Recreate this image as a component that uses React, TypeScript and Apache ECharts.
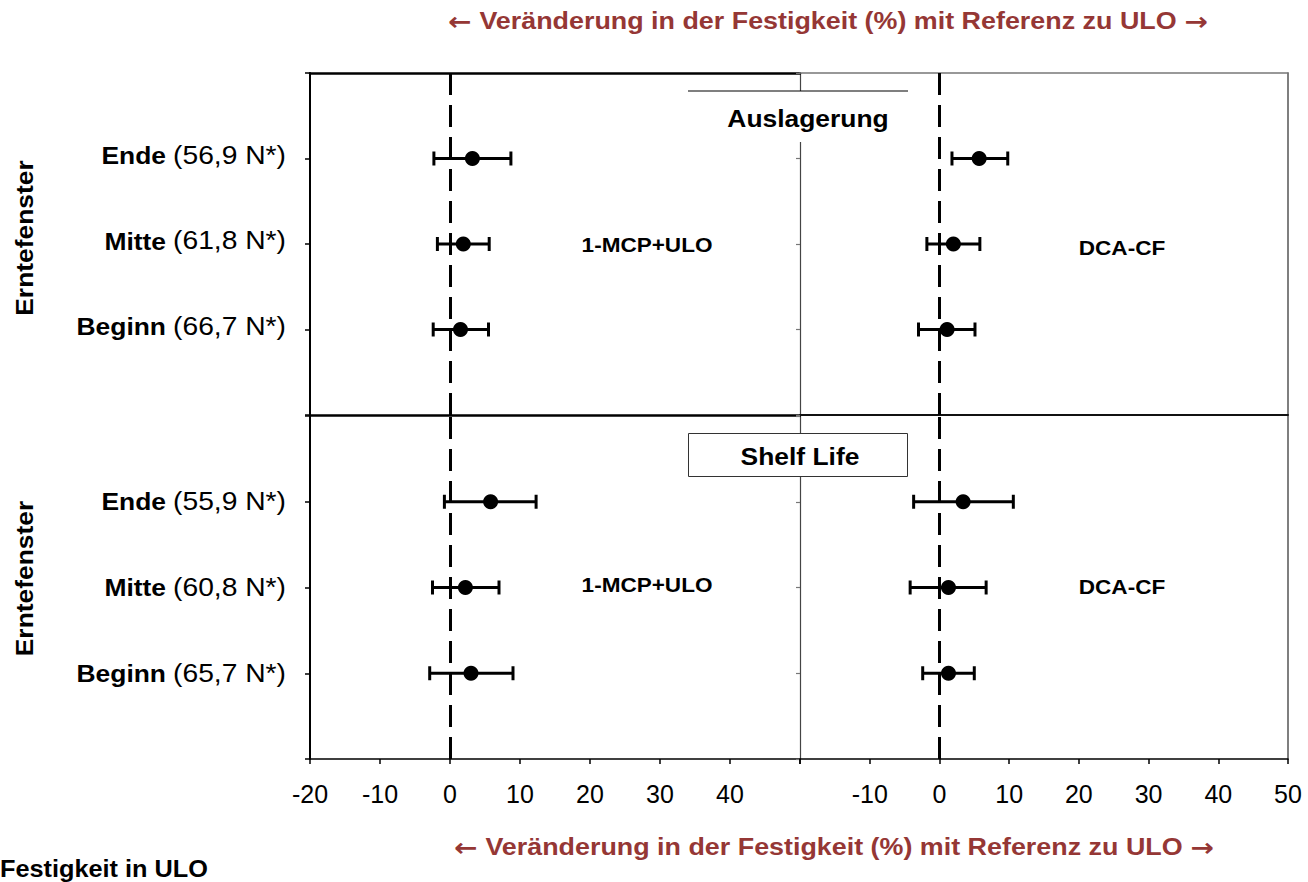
import React, { useEffect, useRef } from "react";
import * as echarts from "echarts";

// Rows of each panel (y value 1 = Beginn, 2 = Mitte, 3 = Ende)
const rowValues = [1, 2, 3];
const rowNames = ["Beginn", "Mitte", "Ende"];
const storageFirmness = ["(66,7 N*)", "(61,8 N*)", "(56,9 N*)"];
const shelfFirmness = ["(65,7 N*)", "(60,8 N*)", "(55,9 N*)"];

// Change in firmness (%) relative to ULO: mean, lower and upper limit (Beginn, Mitte, Ende)
const storageMcpMean = [1.5, 1.9, 3.2];
const storageMcpLow = [-2.4, -1.8, -2.3];
const storageMcpHigh = [5.5, 5.6, 8.7];

const storageDcaMean = [1.1, 2.0, 5.7];
const storageDcaLow = [-3.0, -1.8, 1.8];
const storageDcaHigh = [5.1, 5.8, 9.8];

const shelfMcpMean = [3.0, 2.2, 5.8];
const shelfMcpLow = [-2.9, -2.5, -0.8];
const shelfMcpHigh = [9.0, 7.0, 12.3];

const shelfDcaMean = [1.3, 1.3, 3.4];
const shelfDcaLow = [-2.4, -4.2, -3.7];
const shelfDcaHigh = [5.0, 6.7, 10.6];

// Tick labels shown under each half of the x axis
const leftTickLabels = [-20, -10, 0, 10, 20, 30, 40];
const rightTickLabels = [-10, 0, 10, 20, 30, 40, 50];

const X_MIN = -20;
const X_MAX = 50;
const X_STEP = 10;

const FONT = '"Liberation Sans", Arial, sans-serif';
const RED = "#953735";
const STRETCH = 1.1;

function errorBarItem(params: any, api: any) {
  const y = api.value(2);
  const lo = api.coord([api.value(0), y]);
  const hi = api.coord([api.value(1), y]);
  const cap = 7;
  const style = { stroke: "#000", lineWidth: 3 };
  return {
    type: "group",
    children: [
      { type: "line", shape: { x1: lo[0], y1: lo[1], x2: hi[0], y2: hi[1] }, style },
      { type: "line", shape: { x1: lo[0], y1: lo[1] - cap, x2: lo[0], y2: lo[1] + cap }, style },
      { type: "line", shape: { x1: hi[0], y1: hi[1] - cap, x2: hi[0], y2: hi[1] + cap }, style },
    ],
  };
}

function panelSeries(xAxisIndex: number, yAxisIndex: number, mean: number[], low: number[], high: number[]) {
  return [
    {
      type: "custom",
      xAxisIndex,
      yAxisIndex,
      renderItem: errorBarItem,
      encode: { x: [0, 1], y: 2 },
      data: rowValues.map((r, i) => [low[i], high[i], r]),
      z: 3,
      silent: true,
      markLine: {
        silent: true,
        symbol: ["none", "none"],
        label: { show: false },
        lineStyle: { color: "#000", width: 3, type: [22, 10], opacity: 1 },
        data: [{ xAxis: 0 }],
      },
    },
    {
      type: "scatter",
      xAxisIndex,
      yAxisIndex,
      symbol: "circle",
      symbolSize: 15,
      itemStyle: { color: "#000", opacity: 1 },
      data: rowValues.map((r, i) => [mean[i], r]),
      z: 4,
      silent: true,
    },
  ];
}

function line(color: string, width: number) {
  return { show: true, onZero: false, lineStyle: { color, width } };
}

function xAxisBase(gridIndex: number, position: string) {
  return {
    type: "value",
    gridIndex,
    position,
    min: X_MIN,
    max: X_MAX,
    interval: X_STEP,
    splitLine: { show: false },
    axisTick: { show: false },
    axisLabel: { show: false },
  };
}

function yAxisBase(gridIndex: number, position: string) {
  return {
    type: "value",
    gridIndex,
    position,
    min: 0,
    max: 4,
    interval: 1,
    splitLine: { show: false },
    axisLabel: { show: false },
  };
}

const tickLabelStyle = {
  show: true,
  fontSize: 25,
  fontFamily: FONT,
  color: "#000",
  margin: 22,
};

export default function App() {
  const ref = useRef<HTMLDivElement>(null);

  useEffect(() => {
    if (!ref.current) return;
    const chart = echarts.init(ref.current, undefined, { renderer: "svg" });

    const option: any = {
      animation: false,
      backgroundColor: "#fff",
      grid: [
        { left: 310, top: 73, width: 490, height: 342 },
        { left: 800, top: 73, width: 488, height: 342 },
        { left: 310, top: 416, width: 490, height: 343 },
        { left: 800, top: 416, width: 488, height: 343 },
      ],
      xAxis: [
        // 0: top-left, bottom edge (middle divider)
        { ...xAxisBase(0, "bottom"), axisLine: line("#000", 2.5) },
        // 1: top-left, top edge
        { ...xAxisBase(0, "top"), axisLine: line("#000", 2.5) },
        // 2: top-right, bottom edge
        { ...xAxisBase(1, "bottom"), axisLine: line("#111", 2) },
        // 3: top-right, top edge
        { ...xAxisBase(1, "top"), axisLine: line("#777", 1.5) },
        // 4: bottom-left, value axis
        {
          ...xAxisBase(2, "bottom"),
          axisLine: line("#000", 1.5),
          axisTick: { show: true, length: 5, lineStyle: { color: "#000", width: 1.5 } },
          axisLabel: {
            ...tickLabelStyle,
            formatter: (v: number) => (leftTickLabels.includes(v) ? String(v) : ""),
          },
        },
        // 5: bottom-right, value axis
        {
          ...xAxisBase(3, "bottom"),
          axisLine: line("#000", 1.5),
          axisTick: { show: true, length: 5, lineStyle: { color: "#000", width: 1.5 } },
          axisLabel: {
            ...tickLabelStyle,
            formatter: (v: number) => (rightTickLabels.includes(v) ? String(v) : ""),
          },
        },
      ],
      yAxis: [
        // 0: top-left
        {
          ...yAxisBase(0, "left"),
          axisLine: line("#000", 2),
          axisTick: { show: true, length: 5, lineStyle: { color: "#000", width: 1.5 } },
        },
        // 1: top-right, left edge (centre divider)
        {
          ...yAxisBase(1, "left"),
          axisLine: line("#444", 1.2),
          axisTick: { show: true, length: 4, lineStyle: { color: "#777", width: 1.2 } },
        },
        // 2: top-right, right edge
        { ...yAxisBase(1, "right"), axisLine: line("#555", 1.5), axisTick: { show: false } },
        // 3: bottom-left
        {
          ...yAxisBase(2, "left"),
          axisLine: line("#000", 2),
          axisTick: { show: true, length: 5, lineStyle: { color: "#000", width: 1.5 } },
        },
        // 4: bottom-right, left edge
        {
          ...yAxisBase(3, "left"),
          axisLine: line("#444", 1.2),
          axisTick: { show: true, length: 4, lineStyle: { color: "#777", width: 1.2 } },
        },
        // 5: bottom-right, right edge
        { ...yAxisBase(3, "right"), axisLine: line("#555", 1.5), axisTick: { show: false } },
      ],
      series: [
        ...panelSeries(0, 0, storageMcpMean, storageMcpLow, storageMcpHigh),
        ...panelSeries(2, 1, storageDcaMean, storageDcaLow, storageDcaHigh),
        ...panelSeries(4, 3, shelfMcpMean, shelfMcpLow, shelfMcpHigh),
        ...panelSeries(5, 4, shelfDcaMean, shelfDcaLow, shelfDcaHigh),
      ],
    };
    chart.setOption(option);

    // Row positions from the y axes of the left panels
    const topRows = rowValues.map((v) => chart.convertToPixel({ yAxisIndex: 0 } as any, v) as number);
    const bottomRows = rowValues.map((v) => chart.convertToPixel({ yAxisIndex: 3 } as any, v) as number);

    const text = (
      x: number,
      y: number,
      str: string,
      opts: {
        size: number;
        bold?: boolean;
        align?: string;
        color?: string;
        rotation?: number;
        scale?: number;
        rich?: any;
      }
    ) => ({
      type: "text",
      x,
      y,
      z: 20,
      rotation: opts.rotation ?? 0,
      scaleX: opts.scale ?? STRETCH,
      style: {
        text: str,
        fill: opts.color ?? "#000",
        fontSize: opts.size,
        fontWeight: opts.bold ? "bold" : "normal",
        fontFamily: FONT,
        textAlign: opts.align ?? "center",
        textVerticalAlign: "middle",
        rich: opts.rich,
      },
    });

    const rowLabels = (rows: number[], firmness: string[], dy: number) =>
      rows.flatMap((y, i) => [
        text(166, y + dy, rowNames[i], { size: 24, bold: true, align: "right" }),
        text(286, y + dy, firmness[i], { size: 25, align: "right", scale: 1.13 }),
      ]);

    // Axis title with heavy arrows on both ends
    const titleRich = {
      a: {
        fontFamily: '"DejaVu Sans", sans-serif',
        fontWeight: "bold",
        fontSize: 25,
        fill: RED,
        color: RED,
      },
      t: { fontFamily: FONT, fontWeight: "bold", fontSize: 24, fill: RED, color: RED },
    };
    const title = "{a|\u2190} {t|Veränderung in der Festigkeit (%) mit Referenz zu ULO} {a|\u2192}";

    const graphic: any[] = [
      text(828, 21, title, { size: 24, bold: true, color: RED, rich: titleRich, scale: 1.12 }),
      text(834, 847, title, { size: 24, bold: true, color: RED, rich: titleRich, scale: 1.12 }),
      text(0, 869, "Festigkeit in ULO", { size: 23, bold: true, align: "left" }),

      // Side titles
      text(24, topRows[1] - 6, "Erntefenster", { size: 24, bold: true, rotation: Math.PI / 2 }),
      text(24, bottomRows[1] - 9, "Erntefenster", { size: 24, bold: true, rotation: Math.PI / 2 }),

      ...rowLabels(topRows, storageFirmness, -3),
      ...rowLabels(bottomRows, shelfFirmness, 0),

      // Treatment names
      text(647, topRows[1] + 1, "1-MCP+ULO", { size: 20.5, bold: true }),
      text(647, bottomRows[1] - 2, "1-MCP+ULO", { size: 20.5, bold: true }),
      text(1122, topRows[1] + 4, "DCA-CF", { size: 20.5, bold: true }),
      text(1122, bottomRows[1], "DCA-CF", { size: 20.5, bold: true }),

      // "Auslagerung" heading: white patch with a rule on top
      {
        type: "rect",
        z: 15,
        shape: { x: 688, y: 91, width: 220, height: 51 },
        style: { fill: "#fff", stroke: null },
      },
      {
        type: "line",
        z: 16,
        shape: { x1: 688, y1: 91, x2: 908, y2: 91 },
        style: { stroke: "#000", lineWidth: 1.2 },
      },
      text(808, 118, "Auslagerung", { size: 24, bold: true }),

      // "Shelf Life" heading box
      {
        type: "rect",
        z: 15,
        shape: { x: 688.5, y: 433.5, width: 219, height: 43 },
        style: { fill: "#fff", stroke: "#333", lineWidth: 1 },
      },
      text(800, 456, "Shelf Life", { size: 24, bold: true }),
    ];

    chart.setOption({ graphic });

    return () => chart.dispose();
  }, []);

  return (
    <div
      ref={ref}
      style={{ position: "absolute", left: 0, top: 0, width: 1308, height: 882, background: "#fff" }}
    />
  );
}
